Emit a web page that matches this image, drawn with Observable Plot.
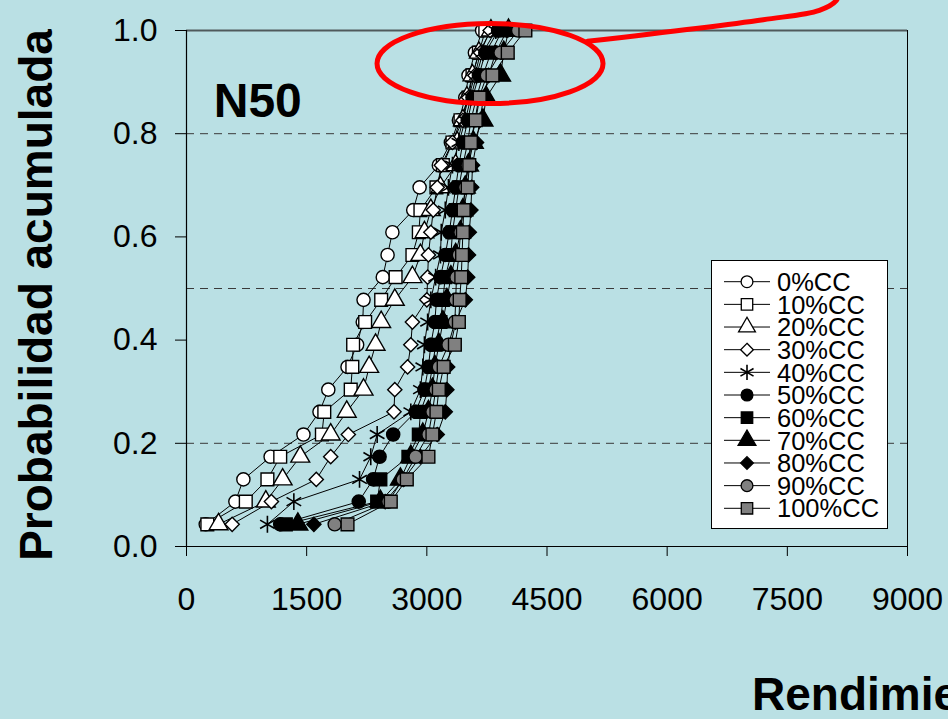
<!DOCTYPE html>
<html><head><meta charset="utf-8">
<script src="https://cdn.jsdelivr.net/npm/d3@7"></script>
<script src="https://cdn.jsdelivr.net/npm/@observablehq/plot@0.6"></script>
<style>
html,body{margin:0;padding:0;background:#bae0e4;overflow:hidden;}
#chart svg{display:block;}
</style></head><body><div id="chart"></div>
<script>
// cumulative probability levels
const probs = [0.043,0.087,0.130,0.174,0.217,0.261,0.304,0.348,0.391,0.435,0.478,0.522,0.565,0.609,0.652,0.696,0.739,0.783,0.826,0.870,0.913,0.957,1.000];
const seriesNames = ["0%CC","10%CC","20%CC","30%CC","40%CC","50%CC","60%CC","70%CC","80%CC","90%CC","100%CC"];
const cc0   = [240,610,710,1050,1460,1660,1770,2010,2130,2200,2210,2450,2510,2570,2830,2910,3150,3300,3400,3480,3520,3600,3690];
const cc10  = [260,740,1010,1170,1690,1720,2050,2070,2080,2230,2430,2610,2820,2900,2920,3120,3200,3320,3420,3520,3570,3650,3730];
const cc20  = [400,990,1200,1420,1800,2000,2210,2280,2360,2430,2600,2820,2920,2970,3050,3170,3360,3380,3450,3500,3570,3650,3800];
const cc30  = [570,1060,1620,1800,2020,2590,2600,2760,2800,2820,3000,3010,3020,3050,3080,3130,3180,3320,3450,3520,3600,3670,3790];
const cc40  = [1010,1340,2160,2300,2380,2800,2920,2950,2970,3010,3050,3110,3170,3180,3230,3270,3320,3400,3480,3550,3620,3700,3860];
const cc50  = [1170,2150,2330,2410,2580,2860,2970,3020,3050,3100,3120,3170,3230,3280,3320,3360,3400,3450,3510,3570,3650,3730,3890];
const cc60  = [1240,2380,2420,2770,2900,2920,3020,3070,3110,3170,3200,3230,3300,3320,3360,3400,3450,3510,3550,3620,3700,3800,3940];
const cc70  = [1390,2420,2670,2800,2950,3020,3070,3100,3150,3200,3250,3300,3360,3420,3450,3480,3520,3580,3700,3740,3920,3960,4020];
const cc80  = [1590,2480,2710,2920,3130,3230,3250,3260,3300,3360,3480,3510,3520,3530,3550,3560,3570,3620,3660,3710,3770,3860,4000];
const cc90  = [1850,2520,2700,2860,3020,3070,3110,3150,3270,3350,3360,3370,3400,3420,3450,3480,3510,3550,3600,3650,3750,3920,4140];
const cc100 = [2010,2550,2750,3020,3070,3120,3150,3210,3350,3400,3410,3430,3440,3450,3460,3510,3530,3550,3610,3660,3820,4010,4230];
const xTicks = [0,1500,3000,4500,6000,7500,9000];
const yTicks = [0,0.2,0.4,0.6,0.8,1.0];
const gridY = [0.2,0.5,0.8];
const labelN = [{x:340, y:0.862, t:"N50"}];
const ellipseCenter = {x:3795, y:0.935};
const callout = [[5006,0.979],[7200,1.021],[7900,1.039],[8110,1.058],[8150,1.075]];

const allSeries = [cc0,cc10,cc20,cc30,cc40,cc50,cc60,cc70,cc80,cc90,cc100];
const styles = [
  {symbol:"circle",   fill:"white",   r:6.6},
  {symbol:"square",   fill:"white",   r:7.2},
  {symbol:"triangle", fill:"white",   r:7},
  {symbol:"diamond2", fill:"white",   r:6.4},
  {symbol:"asterisk", fill:"none",    r:8},
  {symbol:"circle",   fill:"black",   r:6.6},
  {symbol:"square",   fill:"black",   r:7.2},
  {symbol:"triangle", fill:"black",   r:7.4},
  {symbol:"diamond2", fill:"black",   r:6.4},
  {symbol:"circle",   fill:"#808080", r:6.6},
  {symbol:"square",   fill:"#808080", r:7.2}
];
const rows = allSeries.flatMap((vals,k) => vals.map((v,i) => ({series:seriesNames[k], k, x:v, y:probs[i]})));

const marks = [
  Plot.ruleY(gridY, {stroke:"#3a3a3a", strokeWidth:1, strokeDasharray:"8,6"}),
  Plot.ruleY([1], {stroke:"#505a5c", strokeWidth:2}),
  Plot.ruleX([9000], {stroke:"black", strokeWidth:1}),
  Plot.ruleX([0], {stroke:"black", strokeWidth:1.2}),
  Plot.ruleY([0], {stroke:"black", strokeWidth:1.2}),
  Plot.line(rows, {x:"x", y:"y", z:"series", stroke:"black", strokeWidth:1})
];
styles.forEach((s,k) => {
  marks.push(Plot.dot(rows.filter(d => d.k === k), {
    x:"x", y:"y", symbol:s.symbol, r:s.r,
    fill:s.fill, stroke:"black", strokeWidth: s.symbol === "asterisk" ? 1.6 : 1.4
  }));
});
marks.push(Plot.text(labelN, {x:"x", y:"y", text:"t", textAnchor:"start", fontSize:48, fontWeight:"bold", fill:"black"}));
marks.push(Plot.line(callout, {x:d=>d[0], y:d=>d[1], stroke:"red", strokeWidth:5, curve:"catmull-rom", clip:false}));

const chart = Plot.plot({
  width:948, height:719,
  marginLeft:186, marginRight:41, marginTop:30, marginBottom:173,
  style:{background:"#bae0e4", fontFamily:"'Liberation Sans', Arial, sans-serif", fontSize:"32px", color:"black", overflow:"hidden"},
  x:{domain:[0,9000], ticks:xTicks, tickFormat:d=>String(d), tickSize:10, tickPadding:31, label:null},
  y:{domain:[0,1], ticks:yTicks, tickFormat:d3.format(".1f"), tickSize:11, tickPadding:18, label:null},
  marks
});
document.getElementById("chart").appendChild(chart);

const svg = d3.select(chart);
const xs = chart.scale("x"), ys = chart.scale("y");
const FONT = "'Liberation Sans', Arial, sans-serif";
// red ellipse annotation
svg.append("ellipse")
  .attr("cx", xs.apply(ellipseCenter.x)).attr("cy", ys.apply(ellipseCenter.y))
  .attr("rx", 113).attr("ry", 40)
  .attr("fill","none").attr("stroke","red").attr("stroke-width",5);

// axis titles
svg.append("text").text("Probabilidad acumulada")
  .attr("transform","translate(52,295) rotate(-90)")
  .attr("text-anchor","middle").attr("font-size",46).attr("font-weight","bold")
  .attr("font-family",FONT).attr("fill","black");
svg.append("text").text("Rendimiento (kg/ha)")
  .attr("x",752).attr("y",710).attr("text-anchor","start")
  .attr("font-size",46).attr("font-weight","bold")
  .attr("font-family",FONT).attr("fill","black");

// legend
const symMap = {circle:d3.symbolCircle, square:d3.symbolSquare, triangle:d3.symbolTriangle, diamond2:d3.symbolDiamond2, asterisk:d3.symbolAsterisk};
const lg = svg.append("g").attr("text-anchor","start");
lg.append("rect").attr("x",711.5).attr("y",260.5).attr("width",176).attr("height",268)
  .attr("fill","white").attr("stroke","black").attr("stroke-width",1);
seriesNames.forEach((name,k) => {
  const cy = 281.7 + 22.66*k;
  const s = styles[k];
  lg.append("line").attr("x1",724).attr("x2",770).attr("y1",cy).attr("y2",cy).attr("stroke","black").attr("stroke-width",1);
  lg.append("path").attr("transform",`translate(747,${cy})`)
    .attr("d", d3.symbol(symMap[s.symbol], s.r*s.r*Math.PI*0.8)())
    .attr("fill", s.fill).attr("stroke","black").attr("stroke-width", s.symbol==="asterisk"?1.6:1.3);
  lg.append("text").text(name).attr("x",777).attr("y",cy).attr("dy","0.36em").attr("text-anchor","start")
    .attr("font-size",25.5).attr("font-family",FONT).attr("fill","black");
});
</script></body></html>
